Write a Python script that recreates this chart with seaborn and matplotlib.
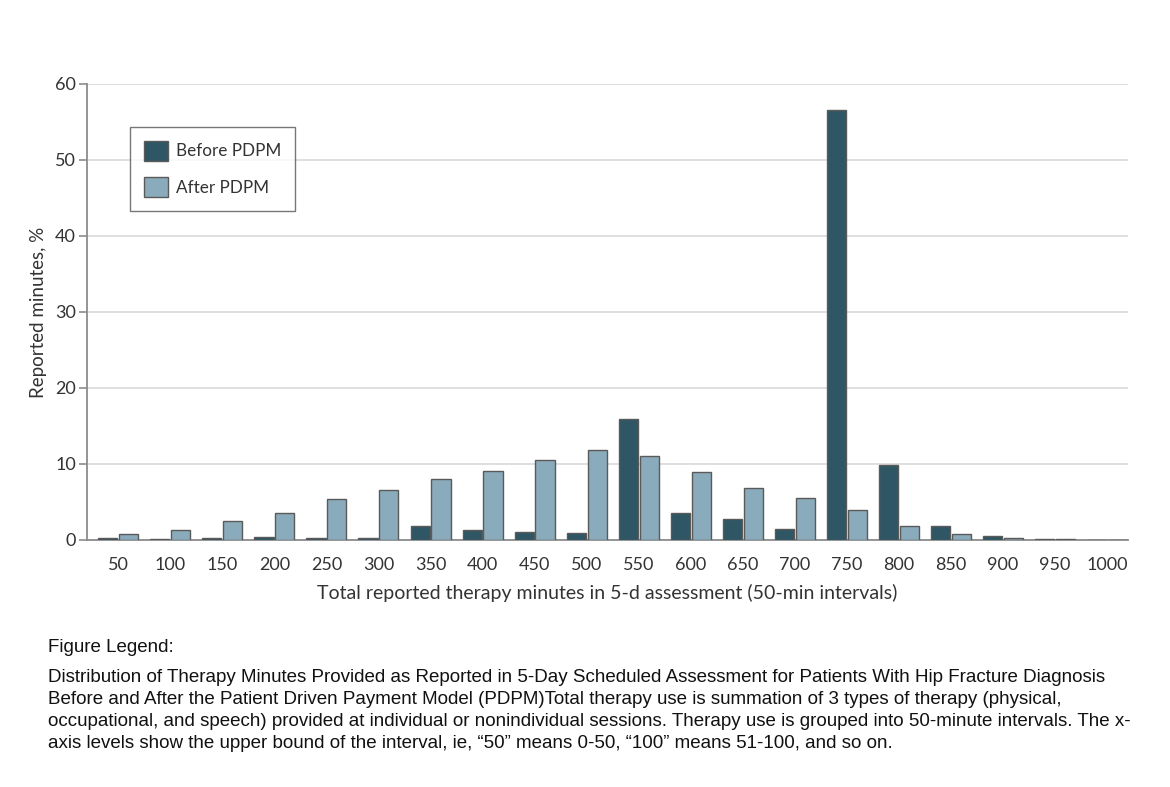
import matplotlib
matplotlib.use("Agg")
import matplotlib.pyplot as plt
import seaborn as sns
import pandas as pd

categories = ["50", "100", "150", "200", "250", "300", "350", "400", "450", "500",
              "550", "600", "650", "700", "750", "800", "850", "900", "950", "1000"]
before_pdpm = [0.26, 0.1, 0.2, 0.4, 0.26, 0.3, 1.8, 1.3, 1.0, 0.92,
               15.9, 3.6, 2.76, 1.45, 56.6, 9.9, 1.84, 0.5, 0.1, 0.05]
after_pdpm = [0.8, 1.27, 2.5, 3.6, 5.4, 6.6, 8.0, 9.1, 10.56, 11.8,
              11.1, 9.0, 6.9, 5.5, 4.0, 1.9, 0.83, 0.3, 0.1, 0.05]
series_names = ["Before PDPM", "After PDPM"]
yticks = [0, 10, 20, 30, 40, 50, 60]

df = pd.DataFrame({
    "interval": categories * 2,
    "value": before_pdpm + after_pdpm,
    "period": [series_names[0]] * len(categories) + [series_names[1]] * len(categories),
})

sns.set_theme(style="white")
plt.rcParams["font.family"] = ["Lato", "DejaVu Sans"]

fig = plt.figure(figsize=(11.7, 7.87), dpi=100)
ax = fig.add_axes([87 / 1170, 1 - 540 / 787, (1128 - 87) / 1170, (540 - 84) / 787])

palette = {"Before PDPM": "#2e5664", "After PDPM": "#8aabbb"}
sns.barplot(data=df, x="interval", y="value", hue="period", order=categories,
            hue_order=series_names, palette=palette, width=0.8, gap=0.08,
            edgecolor="#5a5a5a", linewidth=1.0, ax=ax, zorder=3, saturation=1)

ax.set_ylim(0, 60)
ax.set_xlim(-0.6, 19.4)
ax.set_yticks(yticks)
ax.yaxis.grid(True, color="#d9d9d9", linewidth=1.2, zorder=0)
ax.set_axisbelow(True)
for s in ["top", "right"]:
    ax.spines[s].set_visible(False)
for s in ["left", "bottom"]:
    ax.spines[s].set_color("#8c8c8c")
    ax.spines[s].set_linewidth(1.3)
ax.tick_params(axis="y", which="both", left=True, length=6, width=1.2, color="#8c8c8c",
               labelsize=13, labelcolor="#333333", pad=2)
ax.tick_params(axis="x", bottom=False, labelsize=13, labelcolor="#333333", pad=6)

ax.set_xlabel("Total reported therapy minutes in 5-d assessment (50-min intervals)",
              fontsize=14, color="#333333", labelpad=8)
ax.set_ylabel("Reported minutes, %", fontsize=13.5, color="#333333", labelpad=6)

leg = ax.legend(loc="upper left", bbox_to_anchor=(43 / 1041, 1 - 43 / 456),
                borderaxespad=0, frameon=True, fancybox=False, fontsize=12.3,
                handlelength=1.45, handleheight=1.45, borderpad=0.8,
                labelspacing=0.95, handletextpad=0.45, title=None)
leg.get_frame().set_edgecolor("#555555")
leg.get_frame().set_linewidth(1.0)
for t in leg.get_texts():
    t.set_color("#333333")

cap_font = ["Liberation Sans", "DejaVu Sans"]
fig.text(48 / 1170, 1 - 647 / 787, "Figure Legend:", fontsize=13.5, family=cap_font,
         va="center", ha="left", color="#111111")
caption = ("Distribution of Therapy Minutes Provided as Reported in 5-Day Scheduled Assessment for Patients With Hip Fracture Diagnosis\n"
           "Before and After the Patient Driven Payment Model (PDPM)Total therapy use is summation of 3 types of therapy (physical,\n"
           "occupational, and speech) provided at individual or nonindividual sessions. Therapy use is grouped into 50-minute intervals. The x-\n"
           "axis levels show the upper bound of the interval, ie, \u201c50\u201d means 0-50, \u201c100\u201d means 51-100, and so on.")
fig.text(48 / 1170, 1 - 669 / 787, caption, fontsize=13.5, family=cap_font,
         va="top", ha="left", color="#111111", linespacing=1.38)

fig.savefig("out.png", dpi=100, facecolor="white")
